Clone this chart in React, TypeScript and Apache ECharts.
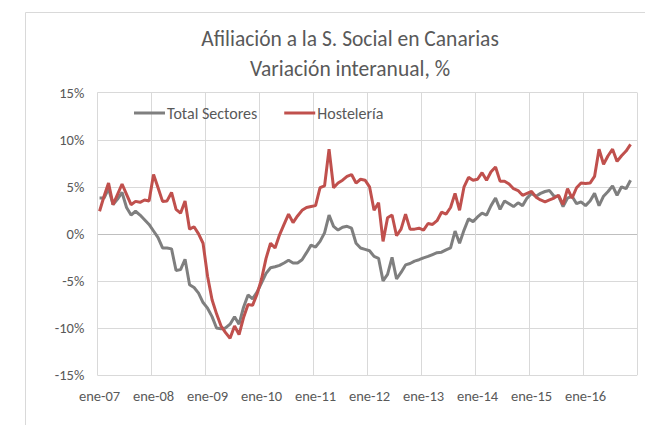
import React, { useEffect, useRef } from "react";
import * as echarts from "echarts";

const MONTHS = ["ene", "feb", "mar", "abr", "may", "jun", "jul", "ago", "sep", "oct", "nov", "dic"];
const YEARS = ["07", "08", "09", "10", "11", "12", "13", "14", "15", "16"];
const categories: string[] = [];
YEARS.forEach((y) => MONTHS.forEach((m) => categories.push(`${m}-${y}`)));

const totalSectores = [
  3.8, 3.8, 4.8, 3.1, 3.7, 4.4, 2.8, 2.0, 2.4, 2.0, 1.5, 1.0,
  0.3, -0.4, -1.5, -1.5, -1.6, -3.9, -3.8, -2.7, -5.4, -5.7, -6.3, -7.3,
  -7.9, -8.8, -10.0, -10.1, -10.0, -9.6, -8.8, -9.6, -7.8, -6.5, -6.9, -6.2,
  -5.2, -4.2, -3.6, -3.5, -3.35, -3.1, -2.8, -3.1, -3.1, -2.75, -2.0, -1.2,
  -1.4, -0.8, 0.1, 2.0, 0.8, 0.4, 0.7, 0.8, 0.6, -1.0, -1.5, -1.65,
  -1.8, -2.4, -2.6, -5.0, -4.3, -2.5, -4.8, -4.1, -3.3, -3.15, -2.9, -2.75,
  -2.55, -2.4, -2.2, -2.0, -1.95, -1.7, -1.5, 0.3, -1.0, 0.4, 1.6, 1.3,
  1.8, 2.2, 2.0, 3.0, 3.8, 2.6, 3.5, 3.2, 2.9, 3.3, 3.0, 3.8,
  4.3, 4.0, 4.3, 4.5, 4.6, 4.0, 4.0, 2.9, 3.8, 4.0, 3.2, 3.4,
  3.0, 3.5, 4.3, 3.0, 4.0, 4.5, 5.1, 4.1, 5.0, 4.8, 5.7,
];

const hosteleria = [
  2.4, 4.0, 5.4, 3.1, 4.2, 5.3, 4.2, 3.1, 3.45, 3.35, 3.6, 3.5,
  6.3, 4.9, 3.45, 3.5, 4.4, 2.6, 2.2, 3.5, 0.5, 0.75, 0.0, -1.0,
  -4.5, -7.0, -8.5, -9.8, -10.5, -11.1, -9.8, -10.7, -8.9, -7.5, -7.6, -6.4,
  -4.8, -2.6, -1.0, -1.5, -0.1, 1.0, 2.1, 1.2, 1.9, 2.5, 2.8, 2.9,
  3.0, 4.9, 5.1, 9.0, 4.9, 5.4, 5.7, 6.1, 6.3, 5.4, 5.8, 5.7,
  5.0, 2.5, 3.3, -0.8, 1.7, 2.0, -0.2, 0.5, 2.1, 0.5, 0.5, 0.6,
  0.4, 1.1, 1.0, 1.4, 2.3, 2.1, 2.8, 4.3, 2.5, 5.0, 6.0, 5.7,
  5.8, 6.5, 5.7, 6.6, 7.1, 5.6, 5.6, 5.3, 4.8, 4.6, 4.1, 4.3,
  4.5, 3.9, 3.6, 3.4, 3.6, 3.8, 4.1, 3.1, 4.8, 3.8, 4.9, 5.4,
  5.35, 5.4, 6.1, 9.0, 7.4, 8.3, 9.0, 7.7, 8.3, 8.8, 9.5,
];

const FONT = "Carlito, Calibri, Lato, sans-serif";
const TEXT = "#595959";

export default function App() {
  const ref = useRef<HTMLDivElement>(null);
  useEffect(() => {
    if (!ref.current) return;
    const chart = echarts.init(ref.current, undefined, { renderer: "svg" });
    chart.setOption({
      animation: false,
      backgroundColor: "#ffffff",
      textStyle: { fontFamily: FONT },
      graphic: [
        {
          type: "rect",
          z: -10,
          shape: { x: 25.5, y: 12.5, width: 700, height: 500 },
          style: { fill: "none", stroke: "#d9d9d9", lineWidth: 1 },
        },
        {
          type: "text",
          x: 350,
          y: 39,
          style: {
            text: "Afiliación a la S. Social en Canarias",
            fill: TEXT,
            font: `21.5px ${FONT}`,
            textAlign: "center",
            textVerticalAlign: "middle",
          },
        },
        {
          type: "text",
          x: 350,
          y: 69,
          style: {
            text: "Variación interanual, %",
            fill: TEXT,
            font: `21.5px ${FONT}`,
            textAlign: "center",
            textVerticalAlign: "middle",
          },
        },
      ],
      legend: {
        left: 134,
        top: 105,
        padding: 0,
        itemWidth: 31,
        itemHeight: 3,
        itemGap: 27,
        icon: "rect",
        textStyle: { fontSize: 16, color: TEXT, fontFamily: FONT, padding: [0, 0, 0, -3] },
        data: ["Total Sectores", "Hostelería"],
      },
      grid: { left: 97.3, right: 7.7, top: 92.7, bottom: 50, containLabel: false },
      xAxis: {
        type: "category",
        data: categories,
        boundaryGap: true,
        axisLine: { show: false },
        axisTick: { show: false },
        axisLabel: { interval: 11, color: TEXT, fontSize: 14.5, margin: 13, fontFamily: FONT },
        splitLine: { show: true, interval: 11, lineStyle: { color: "#d9d9d9", width: 1 } },
      },
      yAxis: {
        type: "value",
        min: -15,
        max: 15,
        interval: 5,
        axisLine: { show: false },
        axisTick: { show: false },
        axisLabel: { formatter: (v: number) => `${v}%`, color: TEXT, fontSize: 14.5, margin: 13, fontFamily: FONT },
        splitLine: {
          lineStyle: {
            color: ["#d9d9d9", "#d9d9d9", "#d9d9d9", "#bfbfbf", "#d9d9d9", "#d9d9d9", "#d9d9d9"],
            width: 1,
          },
        },
      },
      series: [
        {
          name: "Total Sectores",
          type: "line",
          data: totalSectores,
          symbol: "none",
          lineStyle: { color: "#7f7f7f", width: 3 },
          itemStyle: { color: "#7f7f7f" },
          z: 2,
        },
        {
          name: "Hostelería",
          type: "line",
          data: hosteleria,
          symbol: "none",
          lineStyle: { color: "#c0504d", width: 3 },
          itemStyle: { color: "#c0504d" },
          z: 3,
        },
      ],
    });
    return () => chart.dispose();
  }, []);
  return (
    <div
      ref={ref}
      style={{ position: "absolute", left: 0, top: 0, width: 645, height: 425, background: "#fff" }}
    />
  );
}
